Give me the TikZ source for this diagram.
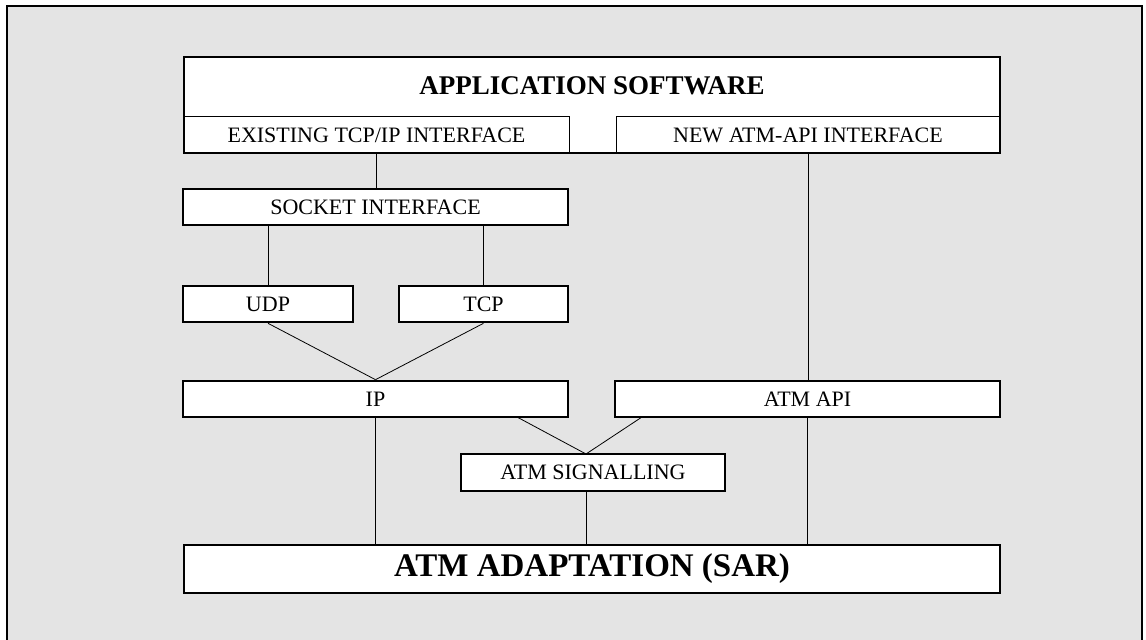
\documentclass[tikz,border=0pt]{standalone}
\usepackage{fontspec}
\setmainfont{Liberation Serif}
\definecolor{panel}{HTML}{E4E4E4}
\newcommand{\lbl}  {\fontsize{11}{13}\selectfont}
\newcommand{\ttl}  {\fontsize{13.5}{16}\selectfont\bfseries}
\newcommand{\bigttl}{\fontsize{16.5}{19}\selectfont\bfseries}

\begin{document}
\begin{tikzpicture}[x=0.5pt,y=-0.5pt,
    blk/.style={draw,line width=1.3pt,fill=white,inner sep=0pt,font=\lbl,
                minimum width=#1,minimum height=18pt},
    sub/.style={draw,line width=0.5pt,inner sep=0pt,font=\lbl,
                minimum width=#1,minimum height=18pt},
    wire/.style={line width=0.4pt}]
      \useasboundingbox (0,0) rectangle (1146,640);
      \clip (0,0) rectangle (1146,640);
      \filldraw[fill=panel,draw=black,line width=1.2pt] (7,6) rectangle (1142,680);
      % application layer
      \node[draw,line width=1.3pt,fill=white,minimum width=408pt,minimum height=48pt,
            inner sep=0pt] (app) at (592,105) {};
      \node[font=\ttl] (apptxt) at (592,86) {APPLICATION SOFTWARE};
      \node[sub=192.5pt] (exist) at (376.5,135) {EXISTING TCP/IP INTERFACE};
      \node[sub=192pt]   (new)   at (808,135)   {NEW ATM-API INTERFACE};
      % stack
      \node[blk=192.5pt] (sock) at (375.5,207) {SOCKET INTERFACE};
      \node[blk=85pt]    (udp)  at (268,304)   {UDP};
      \node[blk=84.5pt]  (tcp)  at (483.5,304) {TCP};
      \node[blk=192.5pt] (ip)   at (375.5,399) {IP};
      \node[blk=192.5pt] (api)  at (807.5,399) {ATM API};
      \node[blk=132pt,minimum height=18.5pt] (sig) at (593,472.5) {ATM SIGNALLING};
      \node[blk=408pt,minimum height=24pt,font=\bigttl] (sar) at (592,569)
            {ATM ADAPTATION (SAR)};
      \coordinate (ipout)  at (517,417);
      \coordinate (apiout) at (642,417);
      \coordinate (sigin)  at (586,454);
      % connectors
      \draw[wire] (exist.south) -- (exist.south |- sock.north);
      \draw[wire] (udp.north) -- (udp.north |- sock.south);
      \draw[wire] (tcp.north) -- (tcp.north |- sock.south);
      \draw[wire] (udp.south) -- (ip.north);
      \draw[wire] (tcp.south) -- (ip.north);
      \draw[wire] (new.south) -- (new.south |- api.north);
      \draw[wire] (ipout) -- (sigin);
      \draw[wire] (apiout) -- (sigin);
      \draw[wire] (ip.south) -- (ip.south |- sar.north);
      \draw[wire] (sigin |- sig.south) -- (sigin |- sar.north);
      \draw[wire] (api.south) -- (api.south |- sar.north);
\end{tikzpicture}
\end{document}
